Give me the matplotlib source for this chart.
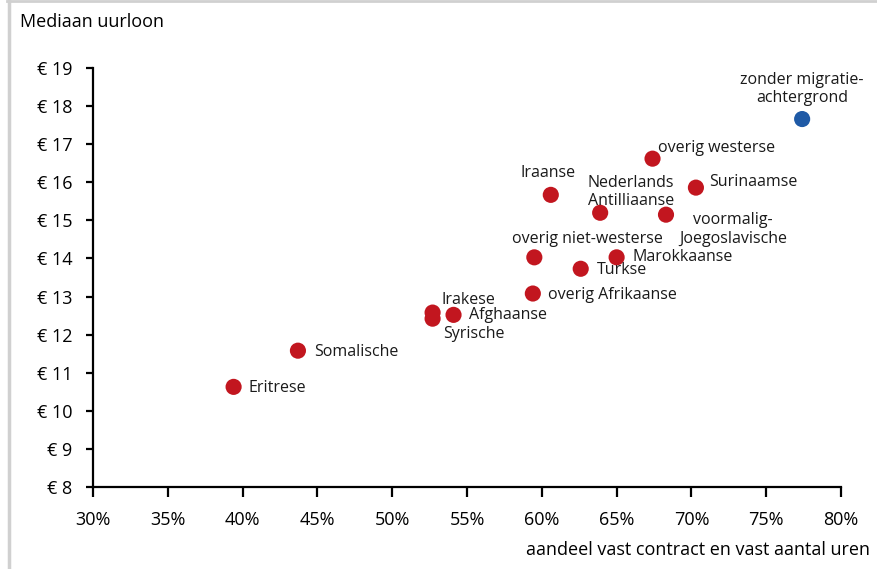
import matplotlib
matplotlib.use('Agg')
import matplotlib.pyplot as plt
from matplotlib.lines import Line2D
from matplotlib.ticker import FuncFormatter, MultipleLocator

plt.rcParams['font.family'] = ['Open Sans', 'DejaVu Sans']
fs = 13       # axis text
fs_lab = 11.5 # point labels

# data
groepen = ['Eritrese', 'Somalische', 'Irakese', 'Syrische', 'Afghaanse',
           'overig Afrikaanse', 'overig niet-westerse', 'Turkse', 'Marokkaanse',
           'Iraanse', 'Nederlands\nAntilliaanse', 'voormalig-\nJoegoslavische',
           'Surinaamse', 'overig westerse', 'zonder migratie-\nachtergrond']
aandeel_vast = [39.4, 43.7, 52.7, 52.7, 54.1, 59.4, 59.5, 62.6, 65.0,
                60.6, 63.9, 68.3, 70.3, 67.4, 77.4]
uurloon = [10.63, 11.58, 12.58, 12.42, 12.52, 13.08, 14.03, 13.73, 14.03,
           15.67, 15.20, 15.15, 15.86, 16.62, 17.66]

# label offsets in pixels (dx, dy, ha)
offsets = [(15, -1, 'left'), (16, -1, 'left'), (9, 13, 'left'), (11, -15, 'left'),
           (15, 0, 'left'), (15, -1, 'left'), (53, 18, 'center'), (16, -1, 'left'),
           (16, 0, 'left'), (-3, 22, 'center'), (31, 21, 'center'), (67, -15, 'center'),
           (13, 6, 'left'), (5, 11, 'left'), (0, 30, 'center')]

rood = '#C2161F'
blauw = '#1F5AA6'
kleuren = [rood] * 14 + [blauw]

fig = plt.figure(figsize=(8.77, 5.69), dpi=100)
ax = fig.add_axes([0.106, 0.144, 0.853, 0.7365])

ax.scatter(aandeel_vast, uurloon, s=135, c=kleuren, edgecolors='none', zorder=3)
for naam, x, y, (dx, dy, ha) in zip(groepen, aandeel_vast, uurloon, offsets):
    ax.annotate(naam, (x, y), xytext=(dx, dy), textcoords='offset pixels',
                ha=ha, va='center', fontsize=fs_lab, color='#1a1a1a',
                linespacing=1.2)

ax.set_xlim(30, 80)
ax.set_ylim(8, 19)
ax.xaxis.set_major_locator(MultipleLocator(5))
ax.yaxis.set_major_locator(MultipleLocator(1))
ax.xaxis.set_major_formatter(FuncFormatter(lambda v, p: '%d%%' % v))
ax.yaxis.set_major_formatter(FuncFormatter(lambda v, p: '€ %d' % v))

ax.spines['top'].set_visible(False)
ax.spines['right'].set_visible(False)
ax.spines['left'].set_linewidth(1.6)
ax.spines['bottom'].set_linewidth(1.6)
ax.tick_params(axis='y', direction='out', length=5, width=1.6, pad=10, labelsize=fs)
ax.tick_params(axis='x', direction='out', length=7, width=1.6, pad=10, labelsize=fs)

fig.text(20 / 877, 1 - 22 / 569, 'Mediaan uurloon', ha='left', va='center', fontsize=fs)
fig.text(870 / 877, 1 - 550 / 569, 'aandeel vast contract en vast aantal uren',
         ha='right', va='center', fontsize=fs)

# grey frame at left and top
fig.add_artist(Line2D([8.5 / 877, 8.5 / 877], [0, 1], color='#d0d0d0', lw=2.5,
                      transform=fig.transFigure))
fig.add_artist(Line2D([7 / 877, 1], [1 - 1 / 569, 1 - 1 / 569], color='#d0d0d0', lw=2,
                      transform=fig.transFigure))

fig.savefig('out.png', dpi=100)
